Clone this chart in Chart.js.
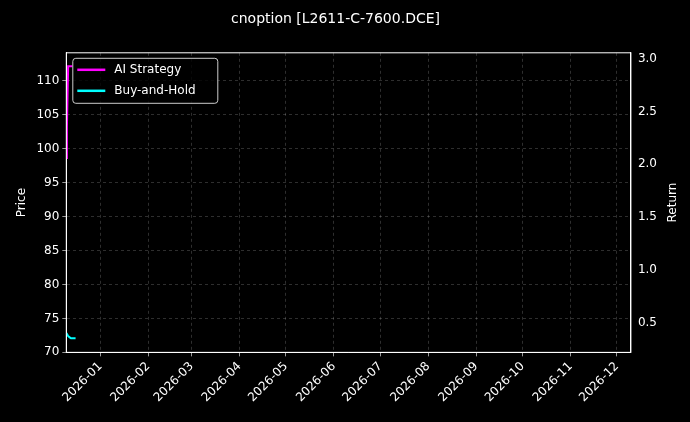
<!DOCTYPE html>
<html><head><meta charset="utf-8">
<script src="https://cdn.jsdelivr.net/npm/chart.js@4/dist/chart.umd.min.js"></script>
<style>html,body{margin:0;background:#000}#w{width:690px;height:422px}</style>
</head><body><div id="w"><canvas id="c"></canvas></div>
<script>
const titleText = 'cnoption [L2611-C-7600.DCE]';
// x values are days relative to 2026-01-01
const aiDays = [-22, -21.6, -21.2, -20.8, -20, -19, -18];
const aiReturn = [2.06, 2.35, 2.65, 2.93, 2.93, 2.93, 2.93];
const bhDays = [-22, -21, -20, -19, -18, -17, -16];
const bhReturn = [0.40, 0.375, 0.36, 0.35, 0.35, 0.35, 0.35];
const monthLabels = ['2026-01','2026-02','2026-03','2026-04','2026-05','2026-06','2026-07','2026-08','2026-09','2026-10','2026-11','2026-12'];
const monthDays = [0,31,59,90,120,151,181,212,243,273,304,334];
const priceTicks = [70,75,80,85,90,95,100,105,110];
const returnTicks = [0.5,1.0,1.5,2.0,2.5,3.0];
const F = 'DejaVu Sans';
const grid = {color:'rgba(255,255,255,0.3)', lineWidth:0.6, drawTicks:true, tickColor:'#fff', tickLength:4};
const bord = {color:'#fff', dash:[3,3]};
const legendPlugin = {id:'lg', afterDraw(ch){
  const c=ch.ctx, a=ch.chartArea; const x=a.left+6, y=a.top+5;
  c.save(); c.fillStyle='rgba(0,0,0,0.8)'; c.strokeStyle='#ccc'; c.lineWidth=1;
  c.beginPath(); c.roundRect(x+0.5,y+0.5,145,45,3); c.fill(); c.stroke();
  const items=[['AI Strategy','#ff00ff'],['Buy-and-Hold','#00ffff']];
  c.font='12px '+F; c.textBaseline='middle';
  items.forEach((it,i)=>{const yy=y+12+i*21; c.strokeStyle=it[1]; c.lineWidth=2.5;
    c.beginPath(); c.moveTo(x+5,yy); c.lineTo(x+33,yy); c.stroke();
    c.fillStyle='#fff'; c.fillText(it[0],x+42,yy);});
  // right axis title, bottom-to-top
  c.translate(673,(a.top+a.bottom)/2); c.rotate(-Math.PI/2);
  c.textAlign='center'; c.fillText('Return',0,0);
  // solid frame
  c.setTransform(1,0,0,1,0,0); c.scale(ch.currentDevicePixelRatio,ch.currentDevicePixelRatio);
  c.strokeStyle='#fff'; c.lineWidth=1; c.strokeRect(a.left,a.top,a.right-a.left,a.bottom-a.top);
  c.restore();
}};
new Chart(document.getElementById('c'),{
  type:'line',
  data:{datasets:[
    {label:'AI Strategy',data:aiDays.map((d,i)=>({x:d,y:aiReturn[i]})),borderColor:'#ff00ff',borderWidth:2,pointRadius:0,yAxisID:'y1'},
    {label:'Buy-and-Hold',data:bhDays.map((d,i)=>({x:d,y:bhReturn[i]})),borderColor:'#00ffff',borderWidth:2,pointRadius:0,yAxisID:'y1'}
  ]},
  plugins:[legendPlugin],
  options:{responsive:true,maintainAspectRatio:false,animation:false,
    layout:{padding:{top:11,right:30,left:11,bottom:14}},
    plugins:{legend:{display:false},tooltip:{enabled:false},
      title:{display:true,text:titleText,color:'#fff',font:{family:F,size:14,weight:'normal'},padding:{top:0,bottom:25}}},
    scales:{
      x:{type:'linear',min:-22,max:343,grid:grid,border:bord,
        afterBuildTicks(s){s.ticks=monthDays.map(v=>({value:v}));},
        ticks:{color:'#fff',font:{family:F,size:12},maxRotation:45,minRotation:45,autoSkip:false,
          callback:(v)=>monthLabels[monthDays.indexOf(v)]}},
      y:{position:'left',min:70,max:114.1,grid:grid,border:bord,
        afterBuildTicks(s){s.ticks=priceTicks.map(v=>({value:v}));},
        ticks:{color:'#fff',font:{family:F,size:12}},
        title:{display:true,text:'Price',color:'#fff',font:{family:F,size:12}}},
      y1:{position:'right',min:0.216,max:3.057,grid:{display:false,drawTicks:true,tickColor:'#fff',tickLength:4},border:{color:'#fff'},
        afterBuildTicks(s){s.ticks=returnTicks.map(v=>({value:v}));},
        ticks:{color:'#fff',font:{family:F,size:12},callback:v=>v.toFixed(1)}}
    }}
});
</script></body></html>
